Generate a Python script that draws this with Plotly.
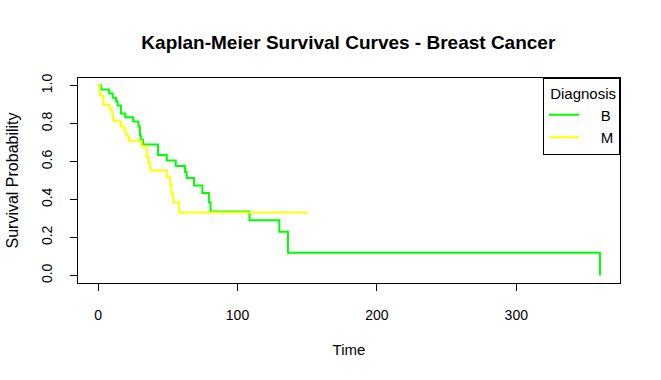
import plotly.graph_objects as go

# Kaplan-Meier step data (drop times and survival after each drop)
b_time = [0, 2, 8, 10.5, 12.9, 14, 16.4, 19.5, 25.2, 29, 30, 30.7, 32.3, 43, 49.3,
          55.7, 62.4, 63.6, 68.8, 74.8, 79.5, 80.7, 108.6, 130, 136.2, 360]
b_surv = [1.0, 0.979, 0.958, 0.936, 0.917, 0.895, 0.853, 0.833, 0.811, 0.784, 0.739,
          0.714, 0.690, 0.634, 0.606, 0.577, 0.545, 0.513, 0.474, 0.434, 0.385, 0.337,
          0.291, 0.230, 0.120, 0.0]

m_time = [0, 1.2, 3.8, 8.0, 9.7, 10.5, 11.0, 16.2, 18.9, 20.1, 22.2, 31.1, 34.8,
          36.2, 37.4, 49.3, 51.7, 52.6, 53.8, 58.1, 150.5]
m_surv = [1.0, 0.947, 0.899, 0.881, 0.860, 0.837, 0.812, 0.784, 0.761, 0.736, 0.709,
          0.682, 0.624, 0.594, 0.553, 0.518, 0.477, 0.434, 0.385, 0.331, 0.331]

x_ticks = [0, 100, 200, 300]
y_ticks = [0.0, 0.2, 0.4, 0.6, 0.8, 1.0]

FONT = "Liberation Sans, Arial, sans-serif"
PAD = "\u00a0\u00a0\u00a0\u00a0"

fig = go.Figure()
fig.add_trace(go.Scatter(x=b_time, y=b_surv, mode="lines", name=PAD + "B",
                         line=dict(color="#00FF00", width=2, shape="hv")))
fig.add_trace(go.Scatter(x=m_time, y=m_surv, mode="lines", name=PAD + "M",
                         line=dict(color="#FFFF00", width=2, shape="hv")))

fig.update_layout(
    width=661, height=380,
    margin=dict(l=78, r=41, t=78, b=97, autoexpand=False),
    paper_bgcolor="white", plot_bgcolor="white",
    font=dict(family=FONT, size=13, color="black"),
    title=dict(text="<b>Kaplan-Meier Survival Curves - Breast Cancer</b>",
               x=0.527, xanchor="center", y=0.889, yanchor="middle",
               font=dict(size=19, family=FONT, color="black")),
    showlegend=True,
    legend=dict(x=1, y=1, xanchor="right", yanchor="top",
                bordercolor="black", borderwidth=1, bgcolor="white",
                title=dict(text="\u00a0Diagnosis", side="top", font=dict(size=15)),
                itemwidth=30, font=dict(size=15, family=FONT),
                tracegroupgap=0),
)
fig.update_xaxes(range=[-14.4, 374.4], tickvals=x_ticks, ticks="outside", ticklen=7,
                 tickcolor="black", showline=True, linecolor="black", linewidth=1,
                 mirror=True, showgrid=False, zeroline=False,
                 ticklabelstandoff=12, tickfont=dict(size=14),
                 title=dict(text="Time", standoff=22, font=dict(size=15)))
fig.update_yaxes(range=[-0.04, 1.04], tickvals=y_ticks, tickformat=".1f", ticks="outside",
                 ticklen=7, tickcolor="black", showline=True, linecolor="black", linewidth=1,
                 mirror=True, showgrid=False, zeroline=False, tickangle=-90,
                 ticklabelstandoff=12, tickfont=dict(size=14),
                 title=dict(text="Survival Probability", standoff=16, font=dict(size=16)))

fig.write_html("out.html", post_script="document.body.style.margin='0';",
               config={"displayModeBar": False})
